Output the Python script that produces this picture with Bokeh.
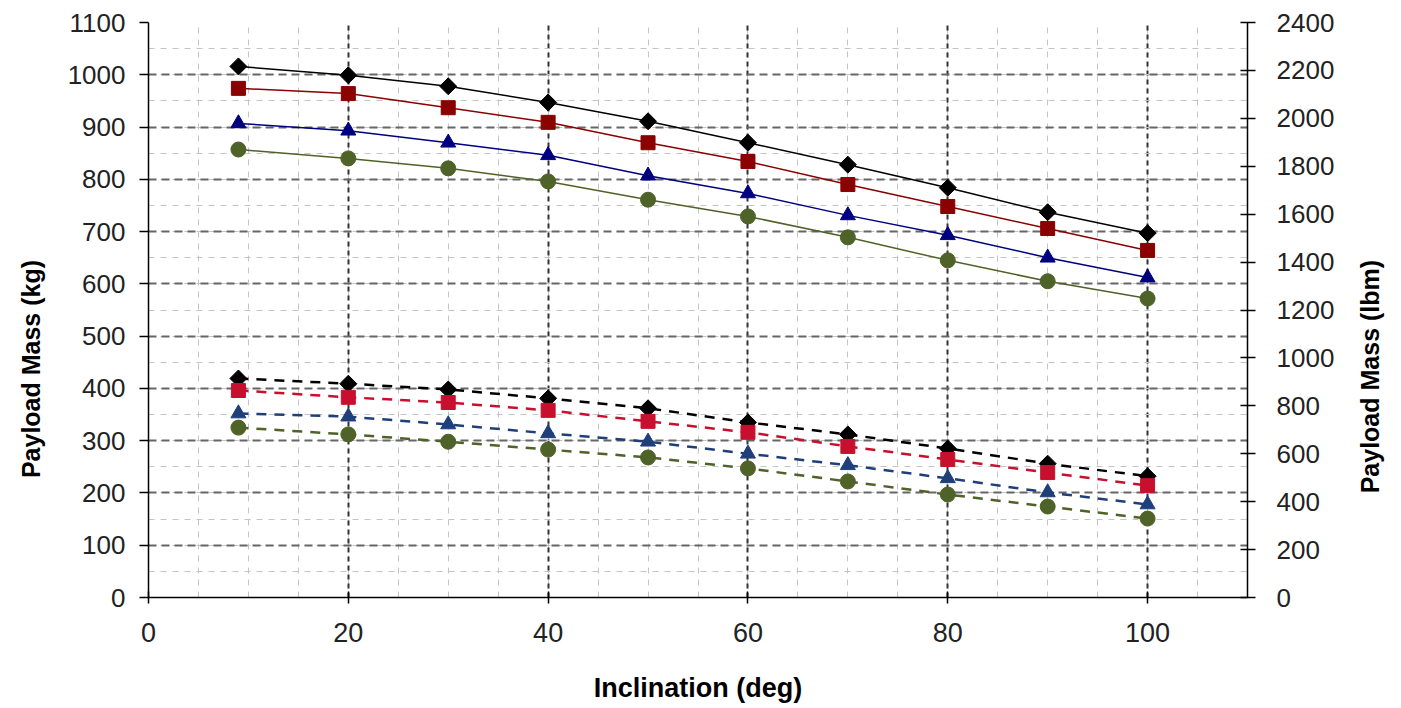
import math
from bokeh.plotting import figure
from bokeh.models import Range1d, LinearAxis, SingleIntervalTicker
from bokeh.embed import file_html
from bokeh.resources import INLINE

inclination = [9, 20, 30, 40, 50, 60, 70, 80, 90, 100]

solid_black = [1016, 999, 978, 947, 911, 870, 828, 784, 737, 697]
solid_red = [974, 964, 937, 909, 870, 834, 790, 748, 706, 664]
solid_blue = [907, 893, 870, 846, 807, 773, 731, 693, 650, 612]
solid_green = [857, 840, 821, 796, 761, 729, 689, 645, 605, 572]

dash_black = [419, 409, 398, 381, 362, 335, 312, 285, 256, 232]
dash_red = [396, 383, 373, 358, 337, 316, 289, 264, 239, 214]
dash_blue = [352, 346, 331, 314, 298, 275, 253, 228, 201, 178]
dash_green = [325, 312, 298, 283, 268, 247, 222, 197, 174, 151]

FONT = "Liberation Sans"
PAD_L = "\u00a0" * 17  # shifts the left title slightly below centre
PAD_R = "\u00a0" * 15  # lifts the right title off the frame bottom

p = figure(width=1401, height=708, output_backend="svg", toolbar_location=None,
           x_range=Range1d(0, 110), y_range=Range1d(0, 1100),
           min_border_left=148, min_border_right=154, min_border_top=22,
           min_border_bottom=111)
p.outline_line_color = None
p.background_fill_color = "white"

p.extra_y_ranges = {"lbm": Range1d(0, 2400)}

# axes
p.xaxis.ticker = SingleIntervalTicker(interval=20, num_minor_ticks=4)
p.yaxis.ticker = SingleIntervalTicker(interval=100, num_minor_ticks=2)

for ax in (p.xaxis[0], p.yaxis[0]):
    ax.axis_line_color = "black"
    ax.axis_line_width = 1.5
    ax.major_tick_line_color = "black"
    ax.major_tick_line_width = 1.5
    ax.minor_tick_line_color = None
    ax.major_label_text_font = FONT
    ax.major_label_text_color = "#222222"
    ax.axis_label_text_font = FONT
    ax.axis_label_text_font_style = "bold"
    ax.axis_label_text_color = "black"

p.xaxis.axis_label = "Inclination (deg)"
p.xaxis.major_tick_in = 6
p.xaxis.major_tick_out = 6
p.xaxis.major_label_standoff = 19
p.xaxis.major_label_text_font_size = "27px"
p.xaxis.axis_label_text_font_size = "27px"
p.xaxis.axis_label_standoff = 28

p.yaxis.axis_label = "Payload Mass (kg)" + PAD_L
p.yaxis.major_tick_in = 0
p.yaxis.major_tick_out = 9
p.yaxis.major_label_standoff = 14
p.yaxis.major_label_text_font_size = "26px"
p.yaxis.axis_label_text_font_size = "25px"
p.yaxis.axis_label_standoff = 20

rax = LinearAxis(y_range_name="lbm", axis_label=PAD_R + "Payload Mass (lbm)",
                 ticker=SingleIntervalTicker(interval=200, num_minor_ticks=0))
rax.axis_line_color = "black"
rax.axis_line_width = 1.5
rax.major_tick_line_color = "black"
rax.major_tick_line_width = 1.5
rax.major_tick_in = 7
rax.major_tick_out = 8
rax.minor_tick_line_color = None
rax.major_label_standoff = 21
rax.major_label_text_font = FONT
rax.major_label_text_font_size = "26px"
rax.major_label_text_color = "#222222"
rax.axis_label_text_font = FONT
rax.axis_label_text_font_size = "25px"
rax.axis_label_text_font_style = "bold"
rax.axis_label_text_color = "black"
rax.axis_label_align = "start"
rax.axis_label_standoff = 33
rax.axis_label_orientation = math.pi / 2
p.add_layout(rax, "right")

# grids
p.ygrid.grid_line_color = "#666666"
p.ygrid.grid_line_width = 2
p.ygrid.grid_line_dash = "8 5"
p.ygrid.minor_grid_line_color = "#c4c4c4"
p.ygrid.minor_grid_line_width = 1
p.ygrid.minor_grid_line_dash = "6 6"

p.xgrid.grid_line_color = "#333333"
p.xgrid.grid_line_width = 2
p.xgrid.grid_line_dash = "5 4"
p.xgrid.minor_grid_line_color = "#c4c4c4"
p.xgrid.minor_grid_line_width = 1
p.xgrid.minor_grid_line_dash = "6 6"

# solid series
p.line(inclination, solid_black, color="black", line_width=1.5)
p.scatter(inclination, solid_black, marker="square", angle=math.pi / 4, size=12, color="black")
p.line(inclination, solid_red, color="#8B0000", line_width=1.5)
p.scatter(inclination, solid_red, marker="square", size=14, color="#8B0000")
p.line(inclination, solid_blue, color="#00007F", line_width=1.5)
p.scatter(inclination, solid_blue, marker="triangle", size=15, color="#00007F")
p.line(inclination, solid_green, color="#4F6228", line_width=1.5)
p.scatter(inclination, solid_green, marker="circle", size=15, color="#4F6228")

# dashed series
p.line(inclination, dash_black, color="black", line_width=2.5, line_dash="10 8")
p.scatter(inclination, dash_black, marker="square", angle=math.pi / 4, size=12, color="black")
p.line(inclination, dash_red, color="#C8102E", line_width=2.5, line_dash="10 8")
p.scatter(inclination, dash_red, marker="square", size=14, color="#C8102E")
p.line(inclination, dash_blue, color="#1F3F7A", line_width=2.5, line_dash="10 8")
p.scatter(inclination, dash_blue, marker="triangle", size=15, color="#1F3F7A")
p.line(inclination, dash_green, color="#4F6228", line_width=2.5, line_dash="10 8")
p.scatter(inclination, dash_green, marker="circle", size=15, color="#4F6228")

open("out.html", "w").write(file_html(p, INLINE))
